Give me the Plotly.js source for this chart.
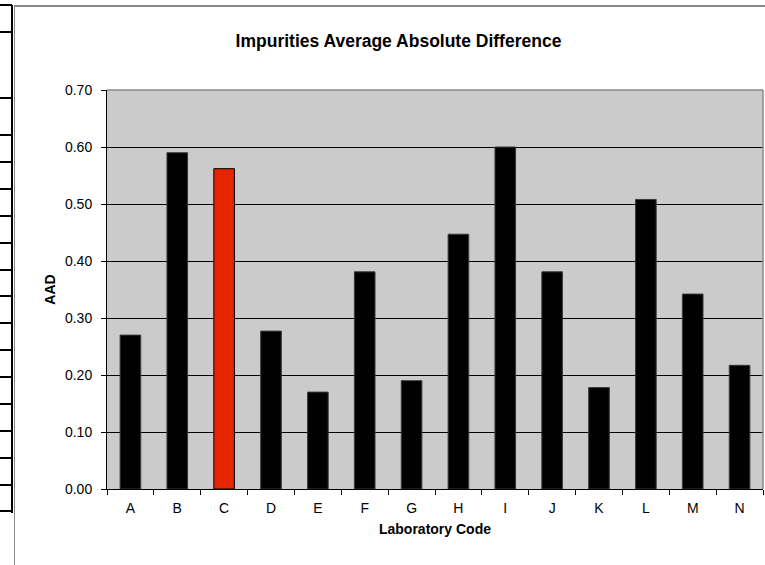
<!DOCTYPE html>
<html>
<head>
<meta charset="utf-8">
<script src="https://cdn.plot.ly/plotly-3.0.1.min.js"></script>
<style>
  html, body { margin: 0; padding: 0; background: #fff; }
  #wrap { position: relative; width: 765px; height: 565px; overflow: hidden; }
  #chart { position: absolute; left: 0; top: 0; width: 765px; height: 565px; }
  .deco { position: absolute; pointer-events: none; }
</style>
</head>
<body>
<div id="wrap">
  <div id="chart"></div>
</div>
<script>
// ---- data ----
const labCodes = ['A','B','C','D','E','F','G','H','I','J','K','L','M','N'];
const aadValues = [0.270, 0.590, 0.562, 0.277, 0.170, 0.381, 0.190, 0.447, 0.600, 0.381, 0.178, 0.508, 0.342, 0.217];
const highlightedLab = 'C';
const yTickValues = [0, 0.1, 0.2, 0.3, 0.4, 0.5, 0.6, 0.7];

const chartTitle = 'Impurities Average Absolute Difference';
const xTitle = 'Laboratory Code';
const yTitle = 'AAD';

// ---- styling ----
const FONT = 'Liberation Sans, Arial, Helvetica, sans-serif';
const barColors = labCodes.map(c => c === highlightedLab ? '#e52400' : '#000000');
const barLines = labCodes.map(c => c === highlightedLab ? '#000000' : '#3a3a3a');

const trace = {
  type: 'bar',
  x: labCodes,
  y: aadValues,
  marker: { color: barColors, line: { color: barLines, width: 1 } },
  hoverinfo: 'x+y'
};

const layout = {
  width: 765, height: 565,
  margin: { l: 107, r: 2, t: 90, b: 76, pad: 0 },
  paper_bgcolor: '#ffffff',
  plot_bgcolor: '#cbcbcb',
  showlegend: false,
  bargap: 0.56,
  font: { family: FONT, color: '#000', size: 14 },
  title: {
    text: '<b>' + chartTitle + '</b>',
    font: { family: FONT, size: 17.5, color: '#000' },
    xref: 'container', x: 398.5 / 765, xanchor: 'center',
    yref: 'container', y: 1 - 41 / 565, yanchor: 'middle'
  },
  xaxis: {
    type: 'category',
    tickson: 'boundaries',
    ticks: 'outside', ticklen: 5, tickcolor: '#000', tickwidth: 1,
    showline: true, linecolor: '#000', linewidth: 1,
    showgrid: false,
    tickfont: { family: FONT, size: 14, color: '#000' },
    ticklabelstandoff: 6,
    title: { text: '<b>' + xTitle + '</b>', font: { family: FONT, size: 14, color: '#000' }, standoff: 9 },
    fixedrange: true
  },
  yaxis: {
    range: [0, 0.7],
    tickvals: yTickValues,
    tickformat: '.2f',
    ticks: 'outside', ticklen: 5, tickcolor: '#000', tickwidth: 1,
    showline: true, linecolor: '#000', linewidth: 1,
    showgrid: true, gridcolor: '#000', gridwidth: 1,
    zeroline: false,
    tickfont: { family: FONT, size: 14, color: '#000' },
    ticklabelstandoff: 6,
    title: { text: '<b>' + yTitle + '</b>', font: { family: FONT, size: 14, color: '#000' }, standoff: 6 },
    fixedrange: true
  },
  shapes: [
    { type: 'line', xref: 'paper', yref: 'paper', x0: 0, x1: 1, y0: 1, y1: 1, line: { color: '#8a8a8a', width: 1.5 }, layer: 'above' },
    { type: 'line', xref: 'paper', yref: 'paper', x0: 1, x1: 1, y0: 0, y1: 1, line: { color: '#8a8a8a', width: 1.5 }, layer: 'above' }
  ]
};

Plotly.newPlot('chart', [trace], layout, { displayModeBar: false, staticPlot: true }).then(() => {
  // decorative frame pieces from the surrounding spreadsheet (not data)
  const wrap = document.getElementById('wrap');
  function box(l, t, w, h, c) {
    const d = document.createElement('div');
    d.className = 'deco';
    d.style.left = l + 'px'; d.style.top = t + 'px';
    d.style.width = w + 'px'; d.style.height = h + 'px';
    d.style.background = c;
    wrap.appendChild(d);
  }
  // chart-area border (gray)
  box(13.5, 5, 1.5, 560, '#8a8a8a');
  box(13.5, 5, 752, 1.5, '#8a8a8a');
  // cell borders at far left (black)
  box(11, 4.5, 2, 508, '#000');
  const rowLines = [5, 32, 98, 135, 162, 189, 216, 243, 270, 296, 323, 350, 377, 404, 431, 458, 485, 511];
  rowLines.forEach(y => box(0, y - 1, 12, 2, '#000'));
});
</script>
</body>
</html>
